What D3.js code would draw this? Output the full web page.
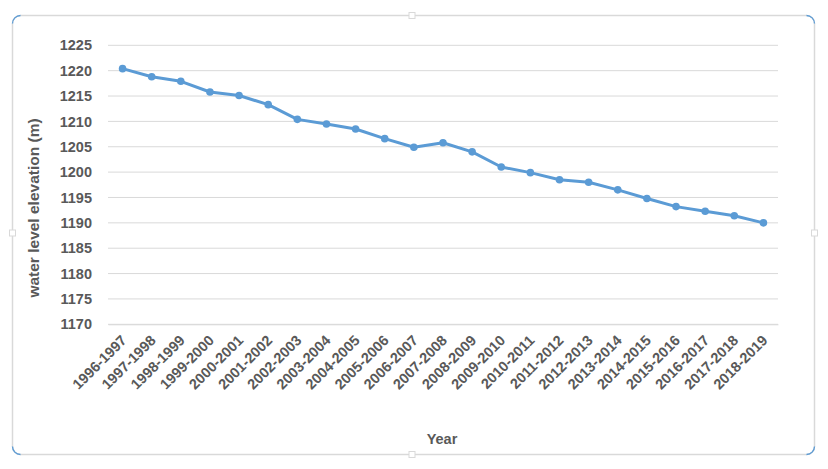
<!DOCTYPE html>
<html><head><meta charset="utf-8">
<script src="https://cdn.jsdelivr.net/npm/d3@7"></script>
<style>body{margin:0;background:#fff}svg{display:block}</style>
</head><body><svg id="c" width="828" height="469"></svg>
<script>
const years = ["1996-1997","1997-1998","1998-1999","1999-2000","2000-2001","2001-2002","2002-2003","2003-2004","2004-2005","2005-2006","2006-2007","2007-2008","2008-2009","2009-2010","2010-2011","2011-2012","2012-2013","2013-2014","2014-2015","2015-2016","2016-2017","2017-2018","2018-2019"];
const elevation = [1220.4,1218.8,1217.9,1215.8,1215.1,1213.3,1210.4,1209.5,1208.5,1206.6,1204.9,1205.8,1204.0,1201.0,1199.9,1198.5,1198.0,1196.5,1194.8,1193.2,1192.3,1191.4,1190.0];
const yTicks = [1170,1175,1180,1185,1190,1195,1200,1205,1210,1215,1220,1225];

const svg = d3.select("#c");
const font = "'Liberation Sans', Arial, sans-serif";
const textColor = "#595959";

// card border
svg.append("rect").attr("x",12.5).attr("y",15.5).attr("width",802).attr("height",439)
  .attr("rx",8).attr("fill","#fff").attr("stroke","#d9d9d9").attr("stroke-width",1.5);
// corner arcs (selection look)
const arcs = [[12.5,15.5,0],[814.5,15.5,90],[814.5,454.5,180],[12.5,454.5,270]];
arcs.forEach(([x,y,r])=>{
  svg.append("path").attr("d","M0,8 A8,8 0 0 1 8,0").attr("fill","none")
    .attr("stroke","#5b9bd5").attr("stroke-width",1.3)
    .attr("transform",`translate(${x},${y}) rotate(${r})`);
});
// mid handles
[[412,15.5],[412,454.5],[12.5,233],[814.5,233]].forEach(([x,y])=>{
  svg.append("rect").attr("x",x-3).attr("y",y-3).attr("width",6).attr("height",6)
    .attr("fill","#fff").attr("stroke","#d9d9d9").attr("stroke-width",1);
});

const x = d3.scaleBand().domain(years).range([108,778]);
const y = d3.scaleLinear().domain([1170,1225]).range([324.3,45.3]);

// gridlines
svg.append("g").selectAll("line").data(yTicks).join("line")
  .attr("x1",108).attr("x2",778).attr("y1",d=>y(d)).attr("y2",d=>y(d))
  .attr("stroke","#d9d9d9").attr("stroke-width",1);

// y axis
const yAxis = svg.append("g").attr("transform","translate(108,0)")
  .call(d3.axisLeft(y).tickValues(yTicks).tickFormat(d3.format("d")).tickSize(0).tickPadding(16));
yAxis.select(".domain").remove();
yAxis.selectAll("text").attr("font-family",font).attr("font-size",14.5)
  .attr("font-weight","bold").attr("fill",textColor);

// x axis
const xAxis = svg.append("g").attr("transform","translate(0,324.3)")
  .call(d3.axisBottom(x).tickSize(0).tickPadding(0));
xAxis.select(".domain").attr("stroke","#d9d9d9");
xAxis.selectAll("text").attr("font-family",font).attr("font-size",14.5)
  .attr("font-weight","bold").attr("fill",textColor)
  .attr("text-anchor","end").attr("dy",0)
  .attr("transform","translate(5,17) rotate(-45)");

// titles
svg.append("text").attr("x",442).attr("y",444).attr("text-anchor","middle")
  .attr("font-family",font).attr("font-size",14.5).attr("font-weight","bold")
  .attr("fill",textColor).text("Year");
svg.append("text").attr("transform","translate(39,208) rotate(-90)").attr("text-anchor","middle")
  .attr("font-family",font).attr("font-size",15.5).attr("font-weight","bold")
  .attr("fill",textColor).text("water level elevation (m)");

// line
const cx = d=>x(d)+x.bandwidth()/2;
svg.append("path").datum(years.map((d,i)=>[cx(d),y(elevation[i])]))
  .attr("d",d3.line()).attr("fill","none").attr("stroke","#5b9bd5")
  .attr("stroke-width",3).attr("stroke-linejoin","round");
svg.append("g").selectAll("circle").data(years).join("circle")
  .attr("cx",cx).attr("cy",(d,i)=>y(elevation[i])).attr("r",3.8).attr("fill","#5b9bd5");
</script></body></html>
